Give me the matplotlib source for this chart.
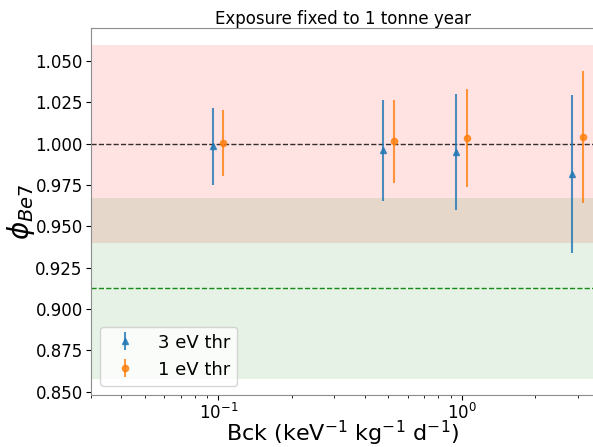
import numpy as np
import matplotlib
matplotlib.use("Agg")
import matplotlib.pyplot as plt

# background rates (keV^-1 kg^-1 d^-1)
bck = np.array([0.1, 0.5, 1.0, 3.0])

# fitted Be7 flux, 3 eV threshold
phi_3ev = np.array([0.9984, 0.9960, 0.9950, 0.9817])
err_3ev = np.array([0.0232, 0.0305, 0.0349, 0.0476])

# fitted Be7 flux, 1 eV threshold
phi_1ev = np.array([1.0004, 1.0014, 1.0034, 1.0042])
err_1ev = np.array([0.0200, 0.0253, 0.0298, 0.0400])

# model predictions and their relative uncertainty
phi_ref = 1.0
phi_alt = 0.9125
rel_unc = 0.06

fig = plt.figure(figsize=(5.93, 4.47), dpi=100)
ax = fig.add_axes([0.1535, 0.1163, 0.850, 0.821])

ax.axhspan(phi_ref * (1 - rel_unc), phi_ref * (1 + rel_unc), color="red", alpha=0.11, lw=0)
ax.axhspan(phi_alt * (1 - rel_unc), phi_alt * (1 + rel_unc), color="green", alpha=0.1, lw=0)
ax.axhline(phi_ref, color="black", ls="--", lw=1, alpha=0.8)
ax.axhline(phi_alt, color="green", ls="--", lw=1, alpha=0.9)

ax.errorbar(bck * 0.95, phi_3ev, yerr=err_3ev, fmt="^", ms=4.5, color="C0",
            alpha=0.8, label="3 eV thr")
ax.errorbar(bck * 1.05, phi_1ev, yerr=err_1ev, fmt="o", ms=4.5, color="C1",
            alpha=0.8, label="1 eV thr")

ax.set_xscale("log")
ax.set_xlim(0.03, 3.53)
ax.set_ylim(0.848, 1.07)
ax.set_yticks(np.arange(0.85, 1.051, 0.025))
ax.yaxis.set_major_formatter(matplotlib.ticker.FormatStrFormatter("%.3f"))
ax.tick_params(axis="y", labelsize=12, pad=2.5)
ax.tick_params(axis="x", labelsize=12, pad=2.5)
for s in ax.spines.values():
    s.set_color("0.55")

ax.set_xlabel(r"Bck (keV$^{-1}$ kg$^{-1}$ d$^{-1}$)", fontsize=16, labelpad=-3)
ax.set_ylabel(r"$\phi_{Be7}$", fontsize=20, labelpad=-1)
ax.set_title("Exposure fixed to 1 tonne year", fontsize=12, pad=3)
ax.legend(loc="lower left", fontsize=13)

fig.savefig("out.png", dpi=100)
